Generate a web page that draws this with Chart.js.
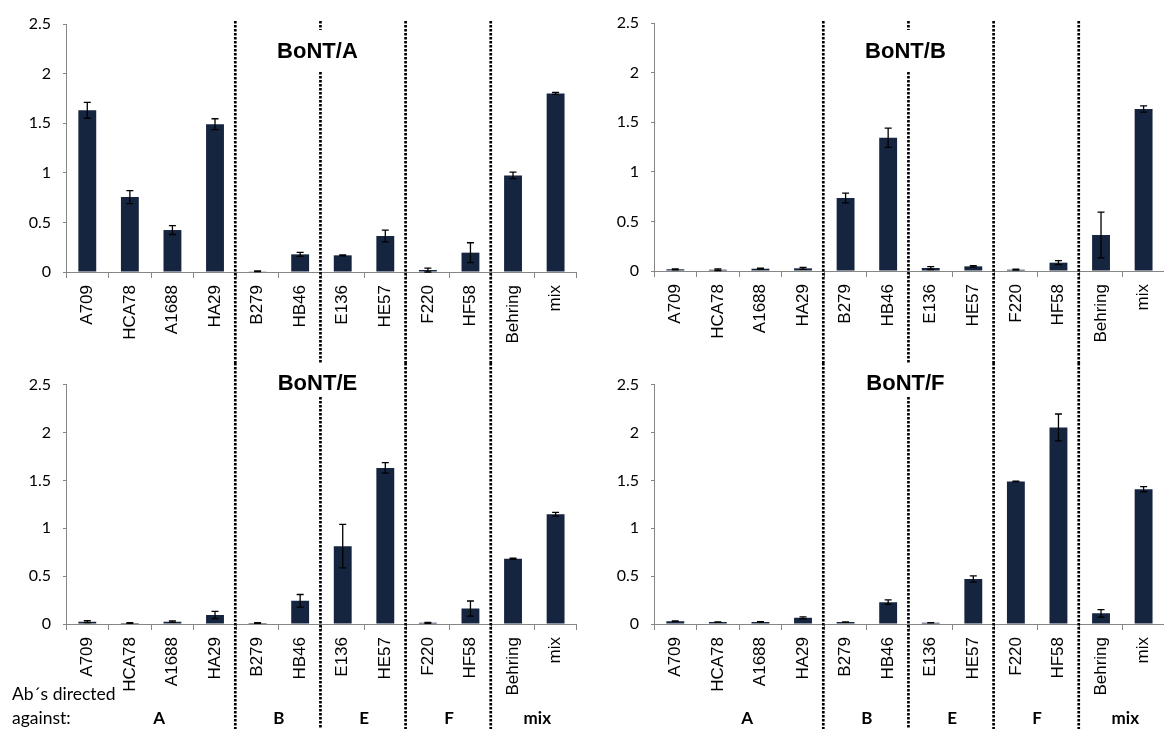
<!DOCTYPE html>
<html>
<head>
<meta charset="utf-8">
<script src="https://cdn.jsdelivr.net/npm/chart.js@4.4.1/dist/chart.umd.min.js"></script>
<style>
  html, body { margin: 0; padding: 0; background: #fff; }
  #wrap { position: relative; width: 1164px; height: 729px; overflow: hidden; background: #fff; }
  canvas { position: absolute; display: block; }
</style>
</head>
<body>
<div id="wrap">
  <canvas id="cA" width="583" height="363" style="left:0px;top:0px;width:583px;height:363px"></canvas>
  <canvas id="cB" width="583" height="363" style="left:588px;top:0px;width:583px;height:363px"></canvas>
  <canvas id="cE" width="583" height="366" style="left:0px;top:363px;width:583px;height:366px"></canvas>
  <canvas id="cF" width="583" height="366" style="left:588px;top:363px;width:583px;height:366px"></canvas>
</div>
<script>
// Antibodies on the x axis, grouped by the serotype they are directed against
const antibodies = ['A709', 'HCA78', 'A1688', 'HA29', 'B279', 'HB46', 'E136', 'HE57', 'F220', 'HF58', 'Behring', 'mix'];
const groupNames = ['A', 'B', 'E', 'F', 'mix'];
const groupFirst = [0, 4, 6, 8, 10];
const groupLast  = [3, 5, 7, 9, 11];

// y axis ticks
const yTickValues = [0, 0.5, 1, 1.5, 2, 2.5];
const yTickLabels = ['0', '0.5', '1', '1.5', '2', '2.5'];

// Signal (mean) and standard deviation per toxin
const bontA    = [1.63, 0.755, 0.423, 1.49, 0.007, 0.178, 0.168, 0.363, 0.02, 0.195, 0.974, 1.80];
const bontAErr = [0.08, 0.065, 0.045, 0.055, 0.004, 0.02, 0.005, 0.06, 0.02, 0.10, 0.033, 0.01];

const bontB    = [0.017, 0.013, 0.023, 0.027, 0.736, 1.344, 0.03, 0.047, 0.013, 0.084, 0.363, 1.633];
const bontBErr = [0.005, 0.008, 0.005, 0.01, 0.049, 0.097, 0.015, 0.008, 0.005, 0.02, 0.23, 0.032];

const bontE    = [0.024, 0.01, 0.024, 0.094, 0.01, 0.242, 0.813, 1.63, 0.013, 0.161, 0.682, 1.146];
const bontEErr = [0.01, 0.004, 0.008, 0.037, 0.003, 0.066, 0.227, 0.055, 0.005, 0.079, 0.006, 0.02];

const bontF    = [0.03, 0.02, 0.02, 0.064, 0.02, 0.228, 0.013, 0.47, 1.489, 2.053, 0.111, 1.408];
const bontFErr = [0.003, 0.003, 0.004, 0.01, 0.003, 0.024, 0.002, 0.032, 0.003, 0.14, 0.039, 0.027];

const BAR_COLOR = '#15253f';
const AXIS_COLOR = '#868686';
const TEXT_FONT = 'Lato, "Open Sans", sans-serif';
const LABEL_FONT = '"Liberation Sans", Arial, sans-serif';
// small horizontal nudges for the group captions
const CAPTION_NUDGE = [8, 0, 0, 0, 3];

// Error bars, dotted group separators, panel title and group captions
const panelDecor = {
  id: 'panelDecor',
  afterDatasetsDraw(chart, args, opts) {
    const ctx = chart.ctx;
    const meta = chart.getDatasetMeta(0);
    const y = chart.scales.y;
    const values = chart.data.datasets[0].data;
    const errs = opts.errors;
    ctx.save();
    ctx.strokeStyle = '#000';
    ctx.lineWidth = 1.3;
    meta.data.forEach((bar, i) => {
      const yt = y.getPixelForValue(values[i] + errs[i]);
      const yb = y.getPixelForValue(Math.max(0, values[i] - errs[i]));
      const x = bar.x;
      ctx.beginPath();
      ctx.moveTo(x, yt); ctx.lineTo(x, yb);
      ctx.moveTo(x - 3.5, yt); ctx.lineTo(x + 3.5, yt);
      ctx.moveTo(x - 3.5, yb); ctx.lineTo(x + 3.5, yb);
      ctx.stroke();
    });
    ctx.restore();
  },
  afterDraw(chart, args, opts) {
    const ctx = chart.ctx;
    const x = chart.scales.x;
    const H = chart.height;
    const boundary = k => (x.getPixelForValue(k - 1) + x.getPixelForValue(k)) / 2 - 1;

    // dotted separators between antibody groups
    ctx.save();
    ctx.strokeStyle = '#000';
    ctx.lineWidth = 2.7;
    ctx.setLineDash([2.4, 1.6]);
    groupFirst.slice(1).forEach(k => {
      const bx = boundary(k);
      const segs = (k === 6) ? opts.titleLineSegs : [[opts.lineTop, H]];
      segs.forEach(([a, b]) => {
        ctx.beginPath();
        ctx.moveTo(bx, a); ctx.lineTo(bx, b);
        ctx.stroke();
      });
    });
    ctx.restore();

    // panel title
    ctx.save();
    ctx.fillStyle = '#000';
    ctx.font = 'bold 22px "Liberation Sans", Arial, sans-serif';
    ctx.textAlign = 'center';
    ctx.textBaseline = 'alphabetic';
    ctx.fillText(opts.title, boundary(6) - 3, opts.titleBaseline);
    ctx.restore();

    // group captions under the bottom row
    if (opts.groupCaptions) {
      ctx.save();
      ctx.fillStyle = '#000';
      ctx.textBaseline = 'alphabetic';
      ctx.textAlign = 'center';
      ctx.font = 'bold 17px ' + TEXT_FONT;
      groupNames.forEach((g, gi) => {
        const cx = (x.getPixelForValue(groupFirst[gi]) + x.getPixelForValue(groupLast[gi])) / 2;
        ctx.fillText(g, cx + CAPTION_NUDGE[gi], opts.captionBaseline);
      });
      if (opts.captionHeader) {
        ctx.textAlign = 'left';
        ctx.font = '17.5px ' + TEXT_FONT;
        ctx.fillText('Ab\u00b4s directed', 12, opts.captionBaseline - 24);
        ctx.fillText('against:', 12, opts.captionBaseline);
      }
      ctx.restore();
    }
  }
};

function makePanel(id, values, errors, cfg) {
  return new Chart(document.getElementById(id), {
    type: 'bar',
    data: {
      labels: antibodies,
      datasets: [{
        data: values,
        backgroundColor: BAR_COLOR,
        borderWidth: 0,
        barPercentage: 0.42,
        categoryPercentage: 1.0
      }]
    },
    options: {
      responsive: false,
      animation: false,
      devicePixelRatio: 1,
      layout: { padding: { top: cfg.top, left: 0, right: 0, bottom: 0 } },
      plugins: {
        legend: { display: false },
        tooltip: { enabled: false },
        title: { display: false },
        panelDecor: {
          errors: errors,
          title: cfg.title,
          titleBaseline: cfg.titleBaseline,
          lineTop: cfg.lineTop,
          titleLineSegs: cfg.titleLineSegs,
          groupCaptions: cfg.groupCaptions,
          captionHeader: cfg.captionHeader,
          captionBaseline: cfg.captionBaseline
        }
      },
      scales: {
        x: {
          offset: true,
          grid: { offset: true, drawOnChartArea: false, drawTicks: true, tickLength: 6, color: AXIS_COLOR },
          border: { display: true, color: AXIS_COLOR, width: 1 },
          ticks: {
            autoSkip: false, minRotation: 90, maxRotation: 90,
            color: '#000', padding: 7,
            font: { family: LABEL_FONT, size: 17 }
          },
          afterFit: s => { s.height = cfg.xHeight; }
        },
        y: {
          min: 0, max: 2.5,
          afterBuildTicks: s => { s.ticks = yTickValues.map(v => ({ value: v })); },
          grid: { drawOnChartArea: false, drawTicks: true, tickLength: 3, color: AXIS_COLOR },
          border: { display: true, color: AXIS_COLOR, width: 1 },
          ticks: {
            color: '#000', padding: 12,
            font: { family: TEXT_FONT, size: 16 },
            callback: (v, i) => yTickLabels[i]
          },
          afterFit: s => { s.width = 66; }
        }
      }
    },
    plugins: [panelDecor]
  });
}

makePanel('cA', bontA, bontAErr, {
  title: 'BoNT/A', top: 24, xHeight: 91, titleBaseline: 58, lineTop: 21,
  titleLineSegs: [[21, 30], [72, 363]], groupCaptions: false
});
makePanel('cB', bontB, bontBErr, {
  title: 'BoNT/B', top: 23, xHeight: 92, titleBaseline: 58, lineTop: 21,
  titleLineSegs: [[21, 30], [72, 363]], groupCaptions: false
});
makePanel('cE', bontE, bontEErr, {
  title: 'BoNT/E', top: 13, xHeight: 105, titleBaseline: 27, lineTop: 0,
  titleLineSegs: [[34, 366]], groupCaptions: true, captionHeader: true, captionBaseline: 361
});
makePanel('cF', bontF, bontFErr, {
  title: 'BoNT/F', top: 13, xHeight: 105, titleBaseline: 27, lineTop: 0,
  titleLineSegs: [[34, 366]], groupCaptions: true, captionHeader: false, captionBaseline: 361
});
</script>
</body>
</html>
